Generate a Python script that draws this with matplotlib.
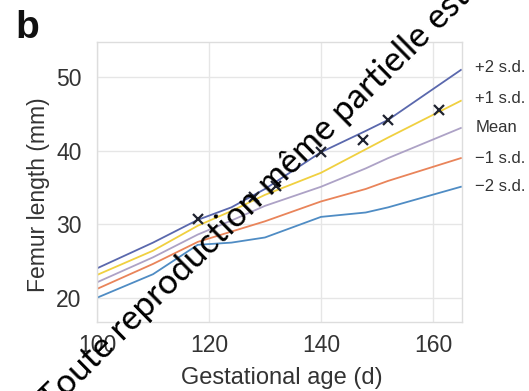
import matplotlib
matplotlib.use("Agg")
import matplotlib.pyplot as plt
import matplotlib.transforms as mtransforms

plt.rcParams['font.family'] = ['Liberation Sans', 'DejaVu Sans']

# Reference curves (gestational age in days)
days = [100, 110, 118, 124, 130, 140, 148, 152, 165]
plus2 = [24.0, 27.5, 30.6, 32.3, 34.8, 39.8, 42.7, 44.2, 51.0]
plus1 = [23.1, 26.4, 29.8, 31.8, 34.0, 37.0, 40.2, 41.8, 46.8]
mean = [22.1, 25.5, 28.6, 30.5, 32.5, 35.1, 37.6, 39.0, 43.1]
minus1 = [21.2, 24.6, 27.6, 29.0, 30.4, 33.1, 34.8, 35.9, 39.0]
minus2 = [20.0, 23.2, 27.2, 27.5, 28.2, 31.0, 31.6, 32.3, 35.1]

# Observed measurements
obs_days = [118, 128, 132, 140, 147.5, 152, 161]
obs_len = [30.7, 33.7, 35.2, 39.8, 41.5, 44.2, 45.6]

series_labels = ['+2 s.d.', '+1 s.d.', 'Mean', '\u22121 s.d.', '\u22122 s.d.']
x_ticks = [100, 120, 140, 160]
y_ticks = [20, 30, 40, 50]

colors = ['#5a68ad', '#f0d040', '#ada2c6', '#e9845a', '#4f8cc4']

fig = plt.figure(figsize=(5.29, 3.91), dpi=100)
ax = fig.add_axes([0.1834, 0.1765, 0.69, 0.7161])

for vals, c in zip([plus2, plus1, mean, minus1, minus2], colors):
    ax.plot(days, vals, color=c, lw=1.3, zorder=2)

ax.plot(obs_days, obs_len, linestyle='none', marker='x', color='#1f2330',
        markersize=7, markeredgewidth=1.6, zorder=3)

ax.set_xlim(100, 165.2)
ax.set_ylim(16.7, 54.8)
ax.set_xticks(x_ticks)
ax.set_yticks(y_ticks)
ax.grid(True, color='#e6e6e6', lw=1.0)
ax.set_axisbelow(True)
for s in ax.spines.values():
    s.set_color('#dddddd')
    s.set_linewidth(1.0)
ax.tick_params(length=0, labelsize=16.5, colors='#333333')
ax.tick_params(axis='x', pad=9)
ax.tick_params(axis='y', pad=11)

ax.set_xlabel('Gestational age (d)', fontsize=17, color='#333333')
ax.set_ylabel('Femur length (mm)', fontsize=16.5, color='#333333')
ax.xaxis.set_label_coords(0.507, -0.16)
ax.yaxis.set_label_coords(-0.128, 0.454)

trans = mtransforms.blended_transform_factory(ax.transAxes, ax.transData)
ends = [plus2[-1] + 0.3, plus1[-1] + 0.3, mean[-1], minus1[-1], minus2[-1]]
for lab, yv in zip(series_labels, ends):
    ax.text(1.036, yv, lab, transform=trans, fontsize=12, color='#333333',
            va='center', ha='left', clip_on=False)

fig.text(15 / 529, 1 - 38 / 391, 'b', fontsize=28, fontweight='bold',
         va='baseline', ha='left', color='#111111')

# watermark
fig.text(45 / 529, 1 - 405 / 391, 'Toute reproduction même partielle est interdite',
         fontsize=25, family=['Lato', 'DejaVu Sans'], rotation=44.5,
         rotation_mode='anchor', ha='left', va='center', color='#000000', zorder=10)

fig.savefig('out.png', dpi=100)
